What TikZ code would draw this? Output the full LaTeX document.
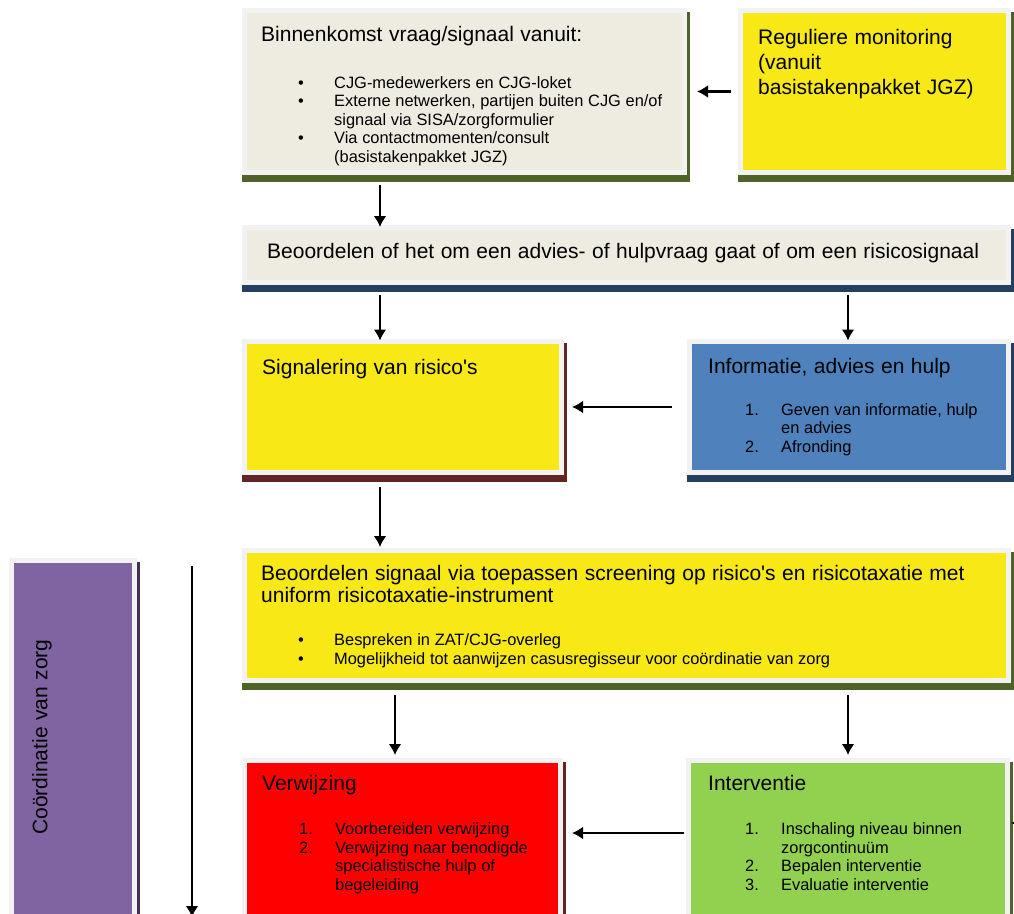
\documentclass[tikz,border=0pt]{standalone}
\usepackage{fontspec}
\setmainfont{Liberation Sans}
\usetikzlibrary{arrows.meta,shadows}
\definecolor{boxgray}{HTML}{F2F2F2}
\definecolor{beige}{HTML}{EEECE1}
\definecolor{geel}{HTML}{F7E816}
\definecolor{blauw}{HTML}{4F81BD}
\definecolor{rood}{HTML}{FF0000}
\definecolor{groen}{HTML}{92D050}
\definecolor{paars}{HTML}{8064A2}
\definecolor{olijf}{HTML}{4F6228}
\definecolor{marine}{HTML}{243F60}
\definecolor{bruinrood}{HTML}{632523}
\definecolor{donkerpaars}{HTML}{3F3151}
\newcommand{\grootf}{\fontsize{21}{25}\selectfont\spaceskip=6.5pt plus 1pt minus 1pt}
\newcommand{\titelf}{\fontsize{21}{22}\selectfont\spaceskip=6.5pt plus 1pt minus 1pt}
\newcommand{\kleinf}{\fontsize{16.4}{18.5}\selectfont\spaceskip=4.7pt plus 1pt minus 1pt}
\newcommand{\punt}[2]{\par\noindent\hangindent=73pt\hangafter=1\makebox[73pt][l]{\hspace{37pt}#1}#2}
\setlength{\parindent}{0pt}

\begin{document}
\begin{tikzpicture}[x=1pt,y=-1pt,>={Latex[length=11pt,width=13pt]},
  vak/.style 2 args={fill=#1,draw=boxgray,line width=5pt,inner sep=0pt,outer sep=0pt,anchor=north west,
    drop shadow={shadow xshift=-2.5pt,shadow yshift=-9.5pt,opacity=1,fill=#2},
    drop shadow={shadow xshift=5.5pt,shadow yshift=-9.5pt,opacity=1,fill=#2},
    drop shadow={shadow xshift=5.5pt,shadow yshift=-1pt,opacity=1,fill=#2}},
  tekst/.style={inner sep=0pt,anchor=north west,align=left,text width=#1},
  pijl/.style={->,line width=2.5pt}]
  \useasboundingbox (0,0) rectangle (1014,913);
  \node[vak={beige}{olijf},minimum width=440pt,minimum height=162pt] (A) at (244.5,10.5) {};
  \node[vak={geel}{olijf},minimum width=268pt,minimum height=162pt] (B) at (740.5,10.5) {};
  \node[vak={beige}{marine},minimum width=764pt,minimum height=55pt] (C) at (244.5,227.5) {};
  \node[vak={geel}{bruinrood},minimum width=317pt,minimum height=131pt] (D) at (244.5,341.5) {};
  \node[vak={blauw}{marine},minimum width=319pt,minimum height=131pt] (E) at (689.5,341.5) {};
  \node[vak={geel}{olijf},minimum width=764pt,minimum height=130pt] (F) at (244.5,550.5) {};
  \node[vak={rood}{bruinrood},minimum width=316pt,minimum height=180pt] (G) at (244.5,760.5) {};
  \node[vak={groen}{olijf},minimum width=319pt,minimum height=180pt] (H) at (688.5,760.5) {};
  \node[vak={paars}{donkerpaars},minimum width=123pt,minimum height=380pt] (P) at (11.5,560.5) {};

  \node[tekst=420pt] (At) at ([shift={(16.5,15.5)}]A.north west)
    {\grootf Binnenkomst vraag/signaal vanuit:\par\vspace{28.5pt}\kleinf
     \punt{\textbullet}{CJG-medewerkers en CJG-loket}
     \punt{\textbullet}{Externe netwerken, partijen buiten CJG en/of\newline signaal via SISA/zorgformulier}
     \punt{\textbullet}{Via contactmomenten/consult\newline (basistakenpakket JGZ)}\par};
  \node[tekst=250pt] (Bt) at ([shift={(17.5,19)}]B.north west)
    {\grootf Reguliere monitoring\par(vanuit\par basistakenpakket JGZ)\par};
  \node[tekst=760pt] (Ct) at ([shift={(22.5,15.5)}]C.north west)
    {\grootf Beoordelen of het om een advies- of hulpvraag gaat of om een risicosignaal\par};
  \node[tekst=295pt] (Dt) at ([shift={(17.5,17.5)}]D.north west)
    {\grootf Signalering van risico\textquotesingle s\par};
  \node[tekst=295pt] (Et) at ([shift={(18.5,16.5)}]E.north west)
    {\grootf Informatie, advies en hulp\par\vspace{23.5pt}\kleinf
     \punt{1.}{Geven van informatie, hulp\newline en advies}
     \punt{2.}{Afronding}\par};
  \node[tekst=760pt] (Ft) at ([shift={(16.5,14.5)}]F.north west)
    {\titelf Beoordelen signaal via toepassen screening op risico\textquotesingle s en risicotaxatie met\newline uniform risicotaxatie-instrument\par\vspace{25pt}\kleinf
     \punt{\textbullet}{Bespreken in ZAT/CJG-overleg}
     \punt{\textbullet}{Mogelijkheid tot aanwijzen casusregisseur voor coördinatie van zorg}\par};
  \node[tekst=295pt] (Gt) at ([shift={(17.5,14.5)}]G.north west)
    {\grootf Verwijzing\par\vspace{26pt}\kleinf
     \punt{1.}{Voorbereiden verwijzing}
     \punt{2.}{Verwijzing naar benodigde\newline specialistische hulp of\newline begeleiding}\par};
  \node[tekst=295pt] (Ht) at ([shift={(19.5,14.5)}]H.north west)
    {\grootf Interventie\par\vspace{26pt}\kleinf
     \punt{1.}{Inschaling niveau binnen\newline zorgcontinuüm}
     \punt{2.}{Bepalen interventie}
     \punt{3.}{Evaluatie interventie}\par};
  \node[rotate=90,inner sep=0pt,font=\grootf] (Pt) at ([shift={(30.5,176.5)}]P.north west) {Coördinatie van zorg};

  \draw[pijl,shorten <=9.5pt,shorten >=12.5pt] (B.west) -- (A.east);
  \draw[pijl,shorten <=12.5pt,shorten >=0.5pt] ([xshift=135.5pt]A.south west) -- ([xshift=135.5pt]A.south west |- C.north);
  \draw[pijl,shorten <=12.5pt,shorten >=1pt] ([xshift=135.5pt]C.south west) -- ([xshift=135.5pt]C.south west |- D.north);
  \draw[pijl,shorten <=12.5pt,shorten >=1pt] ([xshift=603.5pt]C.south west) -- ([xshift=603.5pt]C.south west |- E.north);
  \draw[pijl,shorten <=17.5pt,shorten >=10.5pt] (E.west) -- (D.east);
  \draw[pijl,shorten <=14.5pt,shorten >=3.5pt] ([xshift=135.5pt]D.south west) -- ([xshift=135.5pt]D.south west |- F.north);
  \draw[pijl,shorten <=14.5pt,shorten >=5.5pt] ([xshift=150.5pt]F.south west) -- ([xshift=150.5pt]F.south west |- G.north);
  \draw[pijl,shorten <=14.5pt,shorten >=5.5pt] ([xshift=603.5pt]F.south west) -- ([xshift=603.5pt]F.south west |- H.north);
  \draw[pijl,shorten <=4.5pt,shorten >=11.5pt] ([yshift=17.5pt]H.west) -- ([yshift=17.5pt]G.east);
  \coordinate (vboven) at (192,566);
  \coordinate (vonder) at (192,917);
  \draw[pijl] (vboven) -- (vonder);
  \coordinate (rbuiten) at (1040,823);
  \coordinate (rpunt) at (1011,823);
  \draw[pijl] (rbuiten) -- (rpunt);
\end{tikzpicture}
\end{document}
